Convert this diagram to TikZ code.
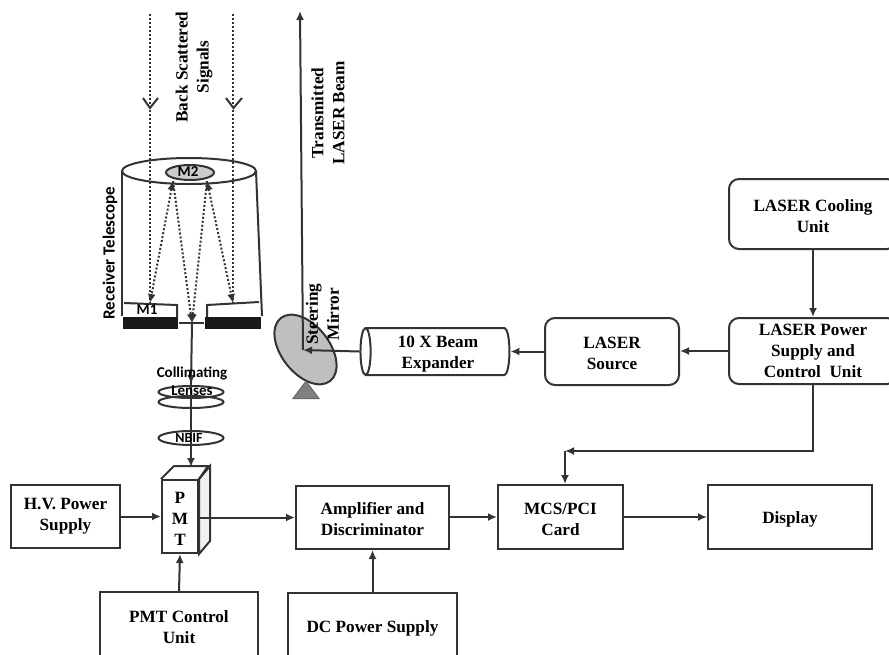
\documentclass[tikz,border=0pt]{standalone}
\usepackage{fontspec}
\setmainfont{Liberation Serif}
\newfontfamily\lblfont{Carlito}
\usetikzlibrary{shapes.geometric,arrows.meta}
\newcommand{\topgap}{\rule{0pt}{16pt}}

\begin{document}
\begin{tikzpicture}[x=1pt,y=-1pt,line width=2pt,draw=black!80,>={Latex[length=9pt,width=8pt]},
box/.style n args={2}{draw,minimum width=#1,minimum height=#2,inner sep=0pt,align=center,font=\fontsize{17.2}{21}\selectfont\bfseries},
rbox/.style n args={2}{box={#1}{#2},rounded corners=10pt},
lbl/.style={inner sep=0pt,align=center,font=\fontsize{17.2}{21}\selectfont\bfseries},
sidelbl/.style={inner sep=0pt,align=center,font=\fontsize{15}{18}\selectfont\lblfont\bfseries},
lens/.style={draw,ellipse,minimum width=65,minimum height=#1,inner sep=0pt},
ray/.style={dotted,line width=2pt}]
\clip (0,0) rectangle (889,654);
% steering mirror
\node[draw,ellipse,fill=black!25,minimum width=80,minimum height=48,rotate=-52] (steer) at (305.5,349.5) {};
\node[draw=black!60,fill=black!50,isosceles triangle,isosceles triangle apex angle=74,shape border rotate=90,minimum height=17,minimum width=26,inner sep=0pt,line width=1pt,anchor=lower side] (stand) at (306,399) {};
% telescope
\coordinate (tl) at (122,171);
\coordinate (tr) at (256,171);
\node[draw,ellipse,minimum width=134,minimum height=26,inner sep=0pt] (rim) at (189,171) {};
\node[draw,ellipse,fill=black!20,minimum width=48,minimum height=15,inner sep=0pt] (m2) at (190,172.5) {};
\node[fill=black!90,minimum width=55,minimum height=12,inner sep=0pt] (basel) at (150.5,323) {};
\node[fill=black!90,minimum width=56,minimum height=12,inner sep=0pt] (baser) at (233,323) {};
\coordinate (m1a) at (150,303);
\coordinate (m1b) at (233,303);
\coordinate (focus) at (192,323);
\coordinate (m2a) at (173,181);
\coordinate (m2b) at (207,181);
\coordinate (topa) at (150,14);
\coordinate (topb) at (233,14);
\draw (tl) -- (basel.north west);
\draw (tr) -- (baser.north east);
\draw (124,303) -- (177,305) -- (177,317);
\draw (207,317) -- (207,305) -- (259,302);
\draw[line width=1.3pt] (basel.east) -- (baser.west);
\draw[ray,-] (topa) -- (m1a);
\draw[ray,-] (topb) -- (m1b);
\draw (143,98) -- (150,108) -- (158,98);
\draw (226,98) -- (233.5,108) -- (242,98);
\draw[ray,<->] (m2a) -- (m1a);
\draw[ray,<->] (m2b) -- (m1b);
\draw[ray,->] (m2a) -- (focus);
\draw[ray,->] (m2b) -- (focus);
\node[sidelbl] (m1lbl) at (147,309.5) {M1};
\node[sidelbl] (m2lbl) at (188,172) {M2};
\node[sidelbl,rotate=90,font=\fontsize{17}{18}\selectfont\lblfont\bfseries] (rcv) at (110,253) {Receiver Telescope};
\node[lbl,rotate=90] (bss) at (194,67) {Back Scattered\\Signals};
\node[lbl,rotate=90] (tlb) at (328,113) {Transmitted\\LASER Beam};
% optics below the telescope
\node[lens=12] (lens1) at (191,392) {};
\node[lens=12] (lens2) at (191,402) {};
\node[lens=14] (nbif) at (191,438) {};
% boxes
\node[box={36}{73},fill=white] (pmt) at (180,516.5) {\topgap P\\M\\T};
\node[box={109}{63}] (hv) at (65.5,516.5) {H.V. Power\\Supply};
\node[box={153}{63}] (amp) at (372.5,517.5) {\topgap Amplifier and\\Discriminator};
\node[box={158}{66}] (pmtc) at (179,625) {\topgap PMT Control\\Unit};
\node[box={169}{66}] (dc) at (372.5,626) {\topgap DC Power Supply};
\node[box={125}{64}] (mcs) at (560.5,517) {\topgap MCS/PCI\\Card};
\node[box={164}{64}] (disp) at (790,517) {\topgap Display};
\node[rbox={168}{70}] (cool) at (813,214) {\topgap LASER Cooling\\Unit};
\node[rbox={168}{66}] (psu) at (813,351) {LASER Power\\Supply and\\Control\ \ Unit};
\node[rbox={134}{67}] (src) at (612,351.5) {\topgap LASER\\Source};
\node[box={47}{149},cylinder,shape border rotate=180,aspect=0.25,rounded corners=0pt] (exp) at (438,351.5) {\topgap 10 X Beam\\Expander};
% PMT side faces
\draw[fill=black!5] (pmt.north east) -- ++(11,-13) -- ++(0,75) -- (pmt.south east) -- cycle;
\draw (pmt.north west) -- ++(13,-13) -- ++(34,0) -- (pmt.north east);
% connectors
\coordinate (beamtop) at (300,11);
\coordinate (steerc) at (303,350);
\coordinate (bend) at (565,451);
\draw[->] (steerc) -- (beamtop);
\draw[->] (exp.west) -- (steerc);
\draw[->] (src.west) -- (src.west -| exp.east);
\draw[->] (psu.west) -- (psu.west -| src.east);
\draw[->] (cool.south) -- (psu.north);
\draw[->] (psu.south) -- (bend -| psu.south) -- (bend);
\draw[->] (bend) -- (bend |- mcs.north);
\draw[->] (focus) -- (191,384);
\draw[->] (191,380) -- (191,467);
\draw[->] (hv.east) -- (hv.east -| pmt.west);
\draw[->] (pmt.east |- amp.west) -- (amp.west);
\draw[->] (amp.east |- mcs.west) -- (mcs.west);
\draw[->] (mcs.east) -- (mcs.east -| disp.west);
\draw[->] (pmtc.north) -- (pmt.south);
\draw[->] (dc.north) -- (amp.south -| dc.north);
% labels that sit on the lines
\node[lbl,rotate=90] (steerlbl) at (322.5,314) {Steering\\Mirror};
\node[sidelbl] (colllbl) at (192,381) {Collimating\\Lenses};
\node[sidelbl,font=\fontsize{14}{18}\selectfont\lblfont\bfseries] (nbiflbl) at (189,438) {NBIF};
\end{tikzpicture}
\end{document}
